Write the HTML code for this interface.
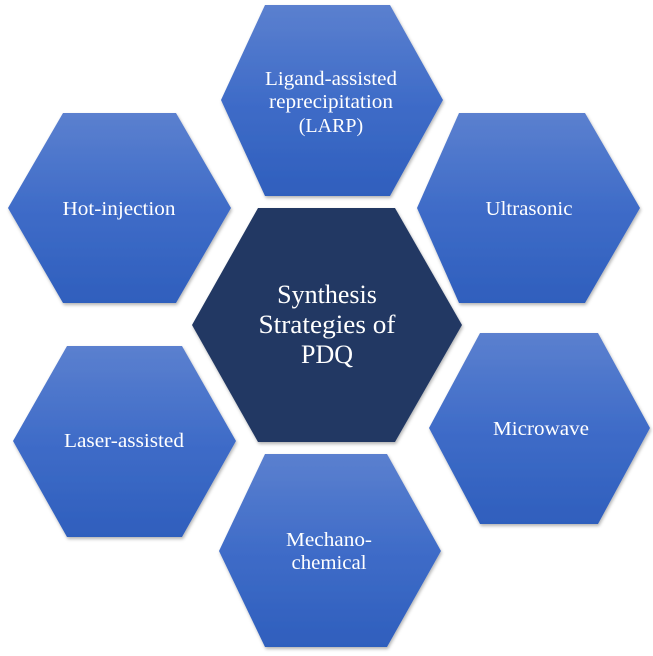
<!DOCTYPE html>
<html><head><meta charset="utf-8"><style>
html,body{margin:0;padding:0;background:#fff;}
svg{display:block}
text{font-family:"Liberation Serif",serif;fill:#fff;text-anchor:middle}
</style></head><body>
<svg width="653" height="656" viewBox="0 0 653 656">
<defs>
<linearGradient id="g" x1="0" y1="0" x2="0" y2="1">
<stop offset="0" stop-color="#5b80cf"/><stop offset="0.5" stop-color="#3f6cc8"/><stop offset="1" stop-color="#2f5fbd"/>
</linearGradient>
<filter id="s" x="-10%" y="-10%" width="120%" height="120%"><feDropShadow dx="1" dy="2" stdDeviation="1.5" flood-color="#000" flood-opacity="0.3"/></filter>
</defs>
<g filter="url(#s)">
<polygon points="265,5 390,5 443,100 390,196 265,196 221,100" fill="url(#g)"/>
<polygon points="63,113 176,113 231,208 176,303 63,303 8,208" fill="url(#g)"/>
<polygon points="459,113 585,113 640,208 585,303 459,303 417,208" fill="url(#g)"/>
<polygon points="258,208 395,208 462,325 395,442 258,442 192,325" fill="#213864"/>
<polygon points="67,346 182,346 236,441 182,537 67,537 13,441" fill="url(#g)"/>
<polygon points="480,333 598,333 650,428 598,524 480,524 429,428" fill="url(#g)"/>
<polygon points="265,454 387,454 441,551 387,647 265,647 219,551" fill="url(#g)"/>
</g>
<g font-size="20">
<text x="331" y="85" textLength="132" lengthAdjust="spacingAndGlyphs">Ligand-assisted</text>
<text x="331" y="108" textLength="124" lengthAdjust="spacingAndGlyphs">reprecipitation</text>
<text x="331" y="132">(LARP)</text>
<text x="119" y="215" textLength="113" lengthAdjust="spacingAndGlyphs">Hot-injection</text>
<text x="529" y="215" textLength="87" lengthAdjust="spacingAndGlyphs">Ultrasonic</text>
<text x="124" y="447" textLength="120" lengthAdjust="spacingAndGlyphs">Laser-assisted</text>
<text x="541" y="435" textLength="96" lengthAdjust="spacingAndGlyphs">Microwave</text>
<text x="329" y="546" textLength="86" lengthAdjust="spacingAndGlyphs">Mechano-</text>
<text x="329" y="569" textLength="75" lengthAdjust="spacingAndGlyphs">chemical</text>
</g>
<g font-size="26">
<text x="327" y="303">Synthesis</text>
<text x="327" y="333" textLength="137" lengthAdjust="spacingAndGlyphs">Strategies of</text>
<text x="327" y="363">PDQ</text>
</g>
</svg>
</body></html>
